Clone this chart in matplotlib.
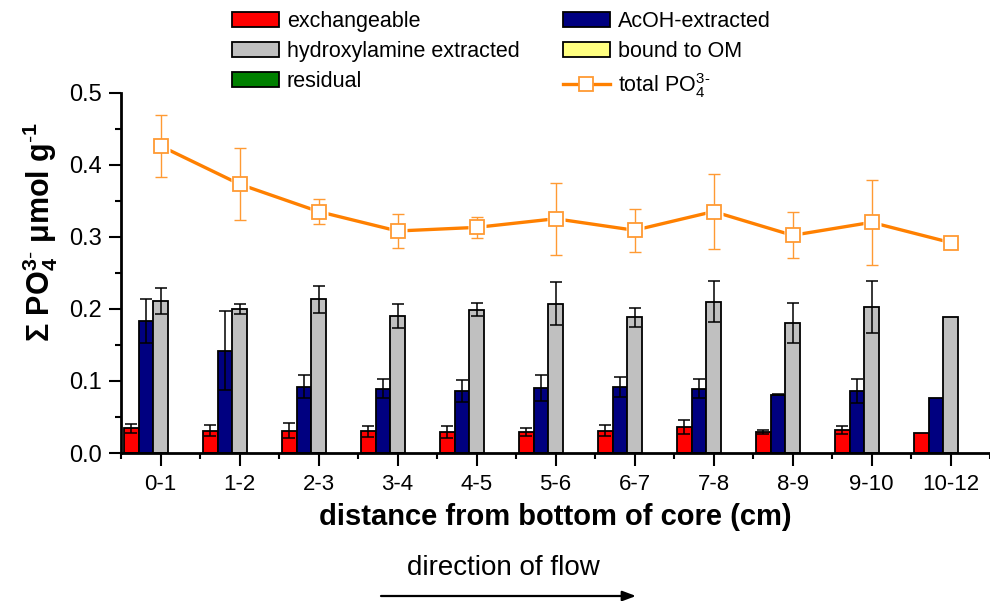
import numpy as np
import matplotlib
matplotlib.use("Agg")
import matplotlib.pyplot as plt
from matplotlib.patches import Patch, FancyArrowPatch
from matplotlib.lines import Line2D

plt.rcParams['font.family'] = ['Liberation Sans', 'DejaVu Sans']
plt.rcParams['mathtext.fontset'] = 'custom'
plt.rcParams['mathtext.rm'] = 'Liberation Sans'
plt.rcParams['mathtext.it'] = 'Liberation Sans:italic'
plt.rcParams['mathtext.bf'] = 'Liberation Sans:bold'

# depth intervals (cm from bottom of core)
categories = ['0-1', '1-2', '2-3', '3-4', '4-5', '5-6', '6-7', '7-8', '8-9', '9-10', '10-12']

# phosphate fractions, umol/g (mean and SD)
exchangeable = [0.034, 0.031, 0.031, 0.030, 0.029, 0.029, 0.031, 0.036, 0.029, 0.032, 0.028]
exchangeable_sd = [0.006, 0.008, 0.010, 0.008, 0.008, 0.006, 0.008, 0.010, 0.003, 0.006, np.nan]
acoh = [0.183, 0.142, 0.092, 0.089, 0.086, 0.090, 0.092, 0.089, 0.081, 0.086, 0.076]
acoh_sd = [0.030, 0.055, 0.016, 0.013, 0.015, 0.018, 0.014, 0.013, 0.001, 0.016, np.nan]
hydroxylamine = [0.211, 0.200, 0.213, 0.190, 0.199, 0.207, 0.188, 0.210, 0.180, 0.203, 0.189]
hydroxylamine_sd = [0.018, 0.007, 0.019, 0.017, 0.009, 0.030, 0.013, 0.028, 0.028, 0.036, np.nan]

# total phosphate
total = [0.426, 0.373, 0.335, 0.308, 0.313, 0.325, 0.309, 0.335, 0.302, 0.320, 0.292]
total_sd = [0.043, 0.050, 0.017, 0.023, 0.015, 0.050, 0.030, 0.052, 0.032, 0.059, np.nan]

RED = '#FF0000'
NAVY = '#000080'
GREY = '#C0C0C0'
YELLOW = '#FFFF80'
GREEN = '#008000'
ORANGE = '#FF8000'
ORANGE_LIGHT = '#FF9A33'

fig = plt.figure(figsize=(9.90, 6.01), dpi=100)
ax = fig.add_axes([121 / 990, 148 / 601, 869 / 990, 360.4 / 601])

x = np.arange(len(categories))
w = 0.184
bar_kw = dict(width=w, edgecolor='black', linewidth=1.3, zorder=2)
err_kw = dict(fmt='none', ecolor='black', elinewidth=1.1, capsize=4.6, capthick=1.1, zorder=3)

# five-fraction layout: exchangeable, AcOH, hydroxylamine, OM, residual
offsets = [-2 * w, -w, 0.0]
for off, vals, sd, col in zip(offsets,
                              [exchangeable, acoh, hydroxylamine],
                              [exchangeable_sd, acoh_sd, hydroxylamine_sd],
                              [RED, NAVY, GREY]):
    ax.bar(x + off, vals, color=col, **bar_kw)
    ax.errorbar(x + off, vals, yerr=np.array(sd, dtype=float), **err_kw)

# total phosphate line
ax.plot(x, total, color=ORANGE, lw=2.4, zorder=4, solid_capstyle='butt')
ax.plot(x, total, ls='none', marker='s', ms=13.5, mfc='white', mec='none', zorder=5)
ax.errorbar(x, total, yerr=np.array(total_sd, dtype=float), fmt='none',
            ecolor=ORANGE_LIGHT, elinewidth=1.0, capsize=4.6, capthick=1.0, zorder=6)
ax.plot(x, total, ls='none', marker='s', ms=9.5, mfc='white', mec=ORANGE_LIGHT,
        mew=1.3, zorder=7)

# axes
ax.set_xlim(-0.5, -0.5 + 869 / 79.7)
ax.set_ylim(0, 0.5)
for s in ['top', 'right']:
    ax.spines[s].set_visible(False)
for s in ['left', 'bottom']:
    ax.spines[s].set_linewidth(2.0)

ax.set_xticks(x)
ax.set_xticklabels(categories, fontsize=16)
ax.set_xticks(np.arange(-0.5, 11, 1.0), minor=True)
ax.set_yticks(np.arange(0, 0.51, 0.1))
ax.set_yticklabels(['%.1f' % v for v in np.arange(0, 0.51, 0.1)], fontsize=17)
ax.set_yticks(np.arange(0.05, 0.5, 0.1), minor=True)
ax.tick_params(which='major', direction='out', length=9, width=1.5)
ax.tick_params(which='minor', direction='out', length=4.5, width=1.5)
ax.tick_params(axis='x', which='major', pad=6)
ax.tick_params(axis='y', which='major', pad=5)

ax.set_xlabel('distance from bottom of core (cm)', fontsize=21, fontweight='bold')
ax.xaxis.set_label_coords(0.5, -0.14)
ax.set_ylabel(r'$\mathbf{\Sigma\ PO_4^{3\text{-}}\ \mu mol\ g^{\text{-}1}}$', fontsize=22)
ax.yaxis.set_label_coords(-0.093, 0.614)
ax.yaxis.label.set_va('center')

# legend
handles = [
    Patch(facecolor=RED, edgecolor='black', linewidth=1.3),
    Patch(facecolor=GREY, edgecolor='black', linewidth=1.3),
    Patch(facecolor=GREEN, edgecolor='black', linewidth=1.3),
    Patch(facecolor=NAVY, edgecolor='black', linewidth=1.3),
    Patch(facecolor=YELLOW, edgecolor='black', linewidth=1.3),
    Line2D([], [], color=ORANGE, lw=2.4, marker='s', ms=9.5, mfc='white',
           mec=ORANGE_LIGHT, mew=1.3),
]
labels = ['exchangeable', 'hydroxylamine extracted', 'residual',
          'AcOH-extracted', 'bound to OM', r'total PO$_4^{3\text{-}}$']
fig.legend(handles, labels, ncol=2, loc='upper left',
           bbox_to_anchor=(232 / 990, 1 - 11 / 601), frameon=False,
           fontsize=15.5, handlelength=2.2, handleheight=0.7,
           handletextpad=0.35, columnspacing=2.0, labelspacing=0.41,
           borderpad=0, borderaxespad=0)

# flow direction
fig.text(503 / 990, 1 - 568 / 601, 'direction of flow', fontsize=20,
         ha='center', va='center')
fig.patches.append(FancyArrowPatch(
    (381 / 990, 1 - 596 / 601), (636 / 990, 1 - 596 / 601),
    transform=fig.transFigure, arrowstyle='-|>,head_length=8,head_width=3',
    color='black', lw=1.6, mutation_scale=1, shrinkA=0, shrinkB=0))

fig.savefig('out.png', dpi=100)
